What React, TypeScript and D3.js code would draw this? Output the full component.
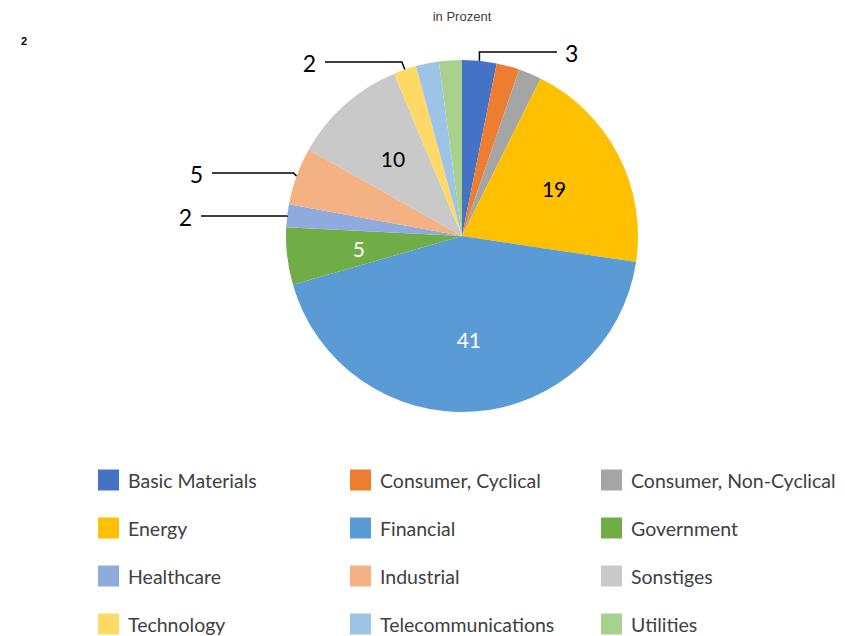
import React from 'react';
import * as d3 from 'd3';

const categories = [
  'Basic Materials', 'Consumer, Cyclical', 'Consumer, Non-Cyclical',
  'Energy', 'Financial', 'Government',
  'Healthcare', 'Industrial', 'Sonstiges',
  'Technology', 'Telecommunications', 'Utilities',
];
const values = [3, 2, 2, 19, 41, 5, 2, 5, 10, 2, 2, 2];
const colors = [
  '#4472C4', '#ED7D31', '#A5A5A5',
  '#FFC000', '#5B9BD5', '#70AD47',
  '#8FAADC', '#F4B183', '#C9C9C9',
  '#FFD966', '#9DC3E6', '#A9D18E',
];
// labels drawn inside the pie, with their text colour
const insideLabels: Record<string, string> = {
  Energy: '#000', Financial: '#fff', Government: '#fff', Sonstiges: '#000',
};
// labels pulled outside with a leader line: text position
const outsideLabels: Record<string, { x: number; y: number; anchor: string }> = {
  'Basic Materials': { x: 565, y: 53, anchor: 'start' },
  Technology: { x: 316, y: 63, anchor: 'end' },
  Industrial: { x: 203, y: 174, anchor: 'end' },
  Healthcare: { x: 192, y: 217, anchor: 'end' },
};

const W = 845;
const H = 636;
const cx = 462;
const cy = 236;
const R = 176;

const App: React.FC = () => {
  const pie = d3.pie<number>().sort(null).value(d => d);
  const arcs = pie(values);
  const arc = d3.arc<d3.PieArcDatum<number>>().innerRadius(0).outerRadius(R);
  const labelArc = d3.arc<d3.PieArcDatum<number>>().innerRadius(R * 0.59).outerRadius(R * 0.59);
  const edgeArc = d3.arc<d3.PieArcDatum<number>>().innerRadius(R).outerRadius(R);

  const legendX = d3.scaleOrdinal<number, number>().domain([0, 1, 2]).range([98, 350, 601]);
  const legendY = d3.scaleLinear().domain([0, 1]).range([480, 528]);

  return (
    <svg width={W} height={H} style={{ position: 'absolute', left: 0, top: 0, background: '#fff' }}>
      <text x={21} y={45} fontFamily="Arial" fontSize={11} fontWeight="bold" fill="#000">2</text>
      <text x={462} y={21} textAnchor="middle" fontFamily="Liberation Sans, Arial" fontSize={13} fill="#404040">
        in Prozent
      </text>
      <g transform={`translate(${cx},${cy})`}>
        {arcs.map((a, i) => (
          <path key={categories[i]} d={arc(a) || ''} fill={colors[i]} />
        ))}
        {arcs.map((a, i) => {
          const name = categories[i];
          if (!(name in insideLabels)) return null;
          const [lx, ly] = labelArc.centroid(a);
          return (
            <text key={name} x={lx} y={ly} textAnchor="middle" dominantBaseline="central"
              fontFamily="Lato, sans-serif" fontSize={21} fill={insideLabels[name]}>
              {values[i]}
            </text>
          );
        })}
      </g>
      {arcs.map((a, i) => {
        const name = categories[i];
        const o = outsideLabels[name];
        if (!o) return null;
        const [ex, ey] = edgeArc.centroid(a);
        const ax = cx + ex;
        const ay = cy + ey;
        const lineY = o.y - 1;
        const elbowX = ax + (o.anchor === 'start' ? 0 : -3) * (Math.abs(ay - lineY) > 1 ? 1 : 0);
        const endX = o.anchor === 'start' ? o.x - 8 : o.x + 9;
        const pts: [number, number][] = [[ax, ay], [elbowX, lineY], [endX, lineY]];
        return (
          <g key={name}>
            <path d={d3.line()(pts) || ''} fill="none" stroke="#000" strokeWidth={1.5} />
            <text x={o.x} y={o.y} textAnchor={o.anchor} dominantBaseline="central"
              fontFamily="Lato, sans-serif" fontSize={23} fill="#000">
              {values[i]}
            </text>
          </g>
        );
      })}
      {categories.map((c, i) => {
        const col = i % 3;
        const row = Math.floor(i / 3);
        const x = legendX(col);
        const y = legendY(row);
        return (
          <g key={c}>
            <rect x={x} y={y - 10.5} width={21} height={21} fill={colors[i]} />
            <text x={x + 30} y={y} dominantBaseline="central" fontFamily="Lato, sans-serif"
              fontSize={19.5} fill="#404040">
              {c}
            </text>
          </g>
        );
      })}
    </svg>
  );
};

export default App;
